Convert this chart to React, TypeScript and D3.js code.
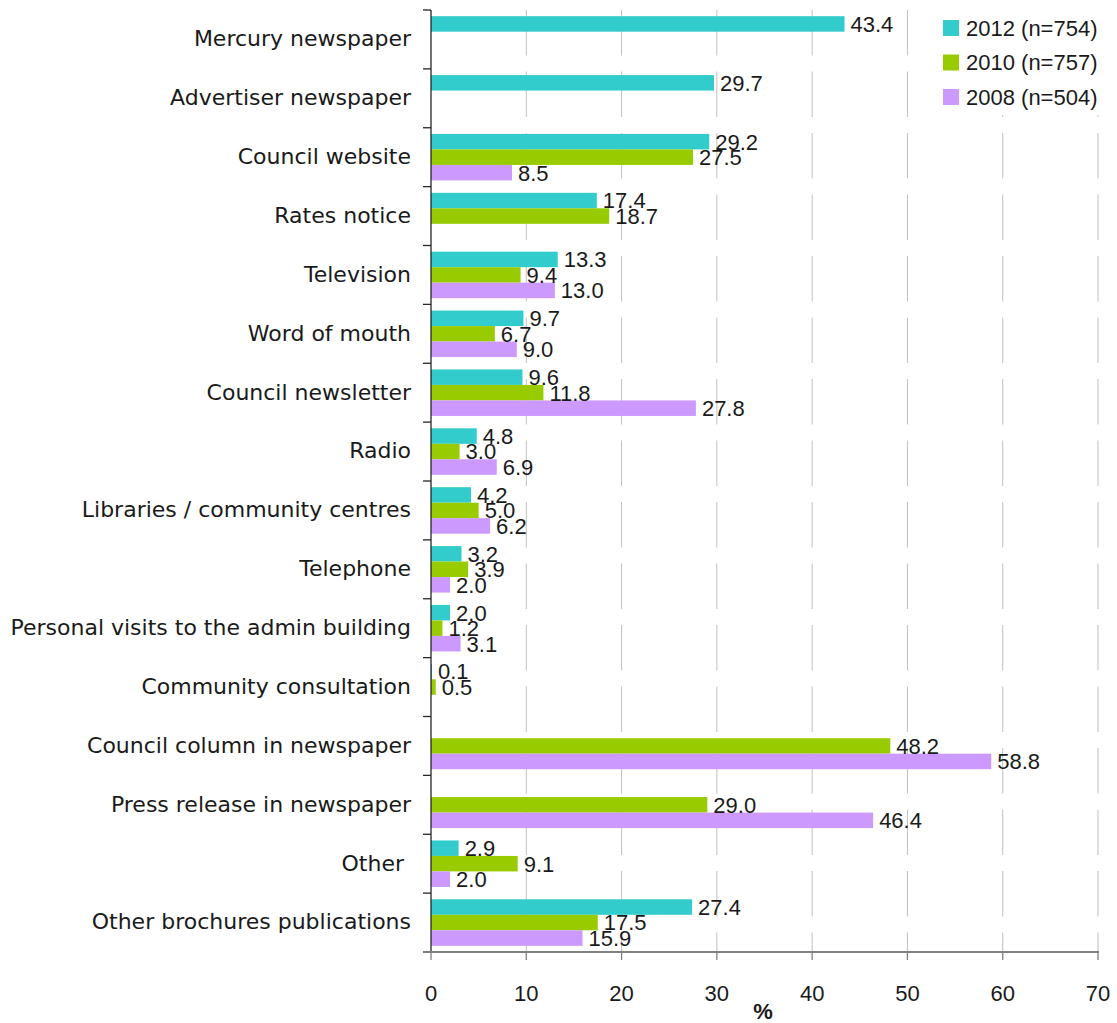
import React from "react";
import * as d3 from "d3";

const categories = [
  "Mercury newspaper",
  "Advertiser newspaper",
  "Council website",
  "Rates notice",
  "Television",
  "Word of mouth",
  "Council newsletter",
  "Radio",
  "Libraries / community centres",
  "Telephone",
  "Personal visits to the admin building",
  "Community consultation",
  "Council column in newspaper",
  "Press release in newspaper",
  "Other ",
  "Other brochures publications",
];

const values2012: (number | null)[] = [43.4, 29.7, 29.2, 17.4, 13.3, 9.7, 9.6, 4.8, 4.2, 3.2, 2.0, 0.1, null, null, 2.9, 27.4];
const values2010: (number | null)[] = [null, null, 27.5, 18.7, 9.4, 6.7, 11.8, 3.0, 5.0, 3.9, 1.2, 0.5, 48.2, 29.0, 9.1, 17.5];
const values2008: (number | null)[] = [null, null, 8.5, null, 13.0, 9.0, 27.8, 6.9, 6.2, 2.0, 3.1, null, 58.8, 46.4, 2.0, 15.9];

const seriesNames = ["2012 (n=754)", "2010 (n=757)", "2008 (n=504)"];
const seriesColors = ["#33CCCC", "#99CC00", "#CC99FF"];
const seriesValues = [values2012, values2010, values2008];
const xTicks = [0, 10, 20, 30, 40, 50, 60, 70];

const W = 1117;
const H = 1023;
const left = 431;
const right = 1098;
const top = 10;
const bottom = 952;

const labelFont = "'DejaVu Sans', sans-serif";
const numFont = "'Liberation Sans', Arial, sans-serif";

export default function App() {
  const x = d3.scaleLinear().domain([0, 70]).range([left, right]);
  const y = d3.scaleBand<string>().domain(categories).range([top, bottom]).paddingInner(0).paddingOuter(0);
  const bw = y.bandwidth();
  const gap = bw * 0.21;
  const inner = d3
    .scaleBand<number>()
    .domain([0, 1, 2])
    .range([gap * 0.5, bw - gap * 0.5])
    .padding(0);
  const bh = inner.bandwidth();

  const boundaries = d3.range(categories.length + 1).map((i) => top + i * bw);

  return (
    <svg
      width={W}
      height={H}
      style={{ position: "absolute", left: 0, top: 0, background: "#fff" }}
    >
      <rect x={0} y={0} width={W} height={H} fill="#fff" />
      {/* gridlines */}
      {xTicks.slice(1).map((t) => (
        <line
          key={"g" + t}
          x1={x(t)}
          x2={x(t)}
          y1={top}
          y2={bottom}
          stroke="#C0C0C0"
          strokeWidth={1}
          strokeDasharray="45.5,16"
        />
      ))}
      {/* bars */}
      {categories.map((c) =>
        seriesValues.map((vals, si) => {
          const v = vals[categories.indexOf(c)];
          if (v == null) return null;
          const by = (y(c) as number) + (inner(si) as number);
          return (
            <rect
              key={c + si}
              x={x(0)}
              y={by}
              width={x(v) - x(0)}
              height={bh}
              fill={seriesColors[si]}
            />
          );
        })
      )}
      {/* value labels */}
      {categories.map((c) =>
        seriesValues.map((vals, si) => {
          const v = vals[categories.indexOf(c)];
          if (v == null) return null;
          const by = (y(c) as number) + (inner(si) as number);
          return (
            <text
              key={"l" + c + si}
              x={x(v) + 6}
              y={by + bh / 2}
              dy="0.36em"
              fontFamily={numFont}
              fontSize={22}
              fill="#1a1a1a"
            >
              {v.toFixed(1)}
            </text>
          );
        })
      )}
      {/* left axis */}
      <line x1={left} x2={left} y1={top} y2={bottom} stroke="#262626" strokeWidth={1.3} />
      {boundaries.map((b, i) => (
        <line key={"yt" + i} x1={left - 8} x2={left} y1={b} y2={b} stroke="#262626" strokeWidth={1.3} />
      ))}
      {categories.map((c) => (
        <text
          key={"c" + c}
          x={411}
          y={(y(c) as number) + bw / 2 - 1}
          dy="0.36em"
          textAnchor="end"
          fontFamily={labelFont}
          fontSize={22}
          fill="#1a1a1a"
          style={{ whiteSpace: "pre" }}
        >
          {c}
        </text>
      ))}
      {/* bottom axis */}
      <line x1={left - 8} x2={right + 1} y1={bottom} y2={bottom} stroke="#808080" strokeWidth={2} />
      {xTicks.map((t) => (
        <line key={"xt" + t} x1={x(t)} x2={x(t)} y1={bottom} y2={bottom + 8} stroke="#808080" strokeWidth={1.3} />
      ))}
      {xTicks.map((t) => (
        <text
          key={"xl" + t}
          x={x(t)}
          y={993}
          dy="0.36em"
          textAnchor="middle"
          fontFamily={numFont}
          fontSize={22}
          fill="#1a1a1a"
        >
          {t}
        </text>
      ))}
      <text
        x={763}
        y={1011}
        dy="0.36em"
        textAnchor="middle"
        fontFamily={numFont}
        fontSize={22}
        fontWeight="bold"
        fill="#1a1a1a"
      >
        %
      </text>
      {/* legend */}
      <rect x={936} y={10} width={178} height={105} fill="#fff" />
      {seriesNames.map((n, i) => (
        <g key={"lg" + n} transform={`translate(943, ${28 + i * 34.5})`}>
          <rect x={0} y={-8} width={16} height={16} fill={seriesColors[i]} />
          <text x={23} y={0} dy="0.36em" fontFamily={numFont} fontSize={22} fill="#1a1a1a">
            {n}
          </text>
        </g>
      ))}
    </svg>
  );
}
